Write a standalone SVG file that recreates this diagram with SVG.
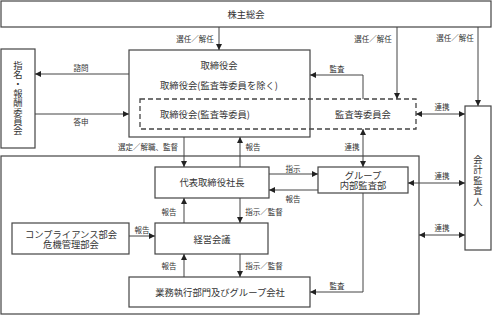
<svg xmlns="http://www.w3.org/2000/svg" width="492" height="315" viewBox="0 0 492 315">
<defs>
<marker id="ah" viewBox="0 0 6 6" refX="6" refY="3" markerWidth="6" markerHeight="6" markerUnits="userSpaceOnUse" orient="auto-start-reverse">
<path d="M0,0 L6,3 L0,6 z" fill="#222"/>
</marker>
<style>
.box{fill:#fff;stroke:#444;stroke-width:1.2}
.dash{fill:none;stroke:#444;stroke-width:1.3;stroke-dasharray:5 3}
.t{font-family:"Noto Sans CJK JP","Liberation Serif",sans-serif;font-size:9.3px;fill:#333;text-anchor:middle;dominant-baseline:central}
.v{font-family:"Noto Sans CJK JP","Liberation Serif",sans-serif;font-size:9.3px;fill:#333;text-anchor:middle;writing-mode:vertical-rl;text-orientation:upright}
.l{font-family:"Noto Sans CJK JP","Liberation Serif",sans-serif;font-size:7.5px;fill:#333;text-anchor:middle;dominant-baseline:central}
.a{fill:none;stroke:#444;stroke-width:1;marker-end:url(#ah)}
.b{fill:none;stroke:#444;stroke-width:1;marker-end:url(#ah);marker-start:url(#ah)}
</style>
</defs>

<g id="big-frame"><rect class="box" x="1" y="156" width="418" height="158"/></g>

<g id="shareholders"><rect class="box" x="1" y="1" width="490" height="26"/><text class="t" x="246" y="14">株主総会</text></g>

<g id="board"><rect class="box" x="129" y="50" width="181" height="87"/>
<text class="t" x="219" y="65">取締役会</text>
<text class="t" x="219" y="85">取締役会(監査等委員を除く)</text></g>

<g id="audit-committee"><rect class="dash" x="140" y="99" width="276" height="30"/>
<text class="t" x="205" y="114">取締役会(監査等委員)</text>
<text class="t" x="363" y="114">監査等委員会</text></g>

<g id="nomination"><rect class="box" x="1" y="49" width="34" height="99"/>
<text class="v" x="18" y="98" letter-spacing="0.1">指名・報酬委員会</text></g>

<g id="auditor"><rect class="box" x="465" y="106" width="26" height="144"/>
<text class="v" x="478" y="181" letter-spacing="1.2">会計監査人</text></g>

<g id="president"><rect class="box" x="155" y="167" width="114" height="31"/><text class="t" x="212" y="182">代表取締役社長</text></g>

<g id="internal-audit"><rect class="box" x="318" y="167" width="90" height="26"/>
<text class="t"><tspan x="363" y="175">グループ</tspan><tspan x="363" y="185">内部監査部</tspan></text></g>

<g id="management"><rect class="box" x="155" y="223" width="113" height="31"/><text class="t" x="212" y="239">経営会議</text></g>

<g id="compliance"><rect class="box" x="12" y="223" width="117" height="31"/>
<text class="t"><tspan x="71" y="234">コンプライアンス部会</tspan><tspan x="71" y="244">危機管理部会</tspan></text></g>

<g id="business"><rect class="box" x="129" y="277" width="181" height="30"/><text class="t" x="220" y="292">業務執行部門及びグループ会社</text></g>

<g id="connectors">
<line class="a" x1="219" y1="27" x2="219" y2="50"/>
<line class="a" x1="397" y1="27" x2="397" y2="99"/>
<line class="a" x1="478" y1="27" x2="478" y2="106"/>
<line class="a" x1="129" y1="74" x2="35" y2="74"/>
<line class="a" x1="35" y1="114" x2="129" y2="114"/>
<polyline class="a" points="363,99 363,75 310,75"/>
<line class="b" x1="416" y1="114" x2="465" y2="114"/>
<line class="a" x1="184" y1="137" x2="184" y2="167"/>
<line class="a" x1="240" y1="167" x2="240" y2="137"/>
<line class="b" x1="363" y1="129" x2="363" y2="167"/>
<line class="a" x1="269" y1="174" x2="318" y2="174"/>
<line class="a" x1="318" y1="190" x2="269" y2="190"/>
<line class="b" x1="408" y1="183" x2="465" y2="183"/>
<line class="b" x1="419" y1="235" x2="465" y2="235"/>
<line class="a" x1="184" y1="223" x2="184" y2="198"/>
<line class="a" x1="240" y1="198" x2="240" y2="223"/>
<line class="a" x1="129" y1="236" x2="155" y2="236"/>
<line class="a" x1="184" y1="277" x2="184" y2="254"/>
<line class="a" x1="240" y1="254" x2="240" y2="277"/>
<polyline class="a" points="363,193 363,292 310,292"/>
<text class="l" x="195" y="38">選任／解任</text>
<text class="l" x="373" y="38">選任／解任</text>
<text class="l" x="455" y="37">選任／解任</text>
<text class="l" x="81" y="67">諮問</text>
<text class="l" x="81" y="121">答申</text>
<text class="l" x="337" y="68">監査</text>
<text class="l" x="442" y="106">連携</text>
<text class="l" x="148" y="146">選定／解職、監督</text>
<text class="l" x="253" y="146">報告</text>
<text class="l" x="352" y="146">連携</text>
<text class="l" x="293" y="168">指示</text>
<text class="l" x="293" y="198">報告</text>
<text class="l" x="442" y="175">連携</text>
<text class="l" x="442" y="227">連携</text>
<text class="l" x="169" y="211">報告</text>
<text class="l" x="264" y="211">指示／監督</text>
<text class="l" x="142" y="229">報告</text>
<text class="l" x="169" y="265">報告</text>
<text class="l" x="264" y="265">指示／監督</text>
<text class="l" x="337" y="285">監査</text>
</g>
</svg>
